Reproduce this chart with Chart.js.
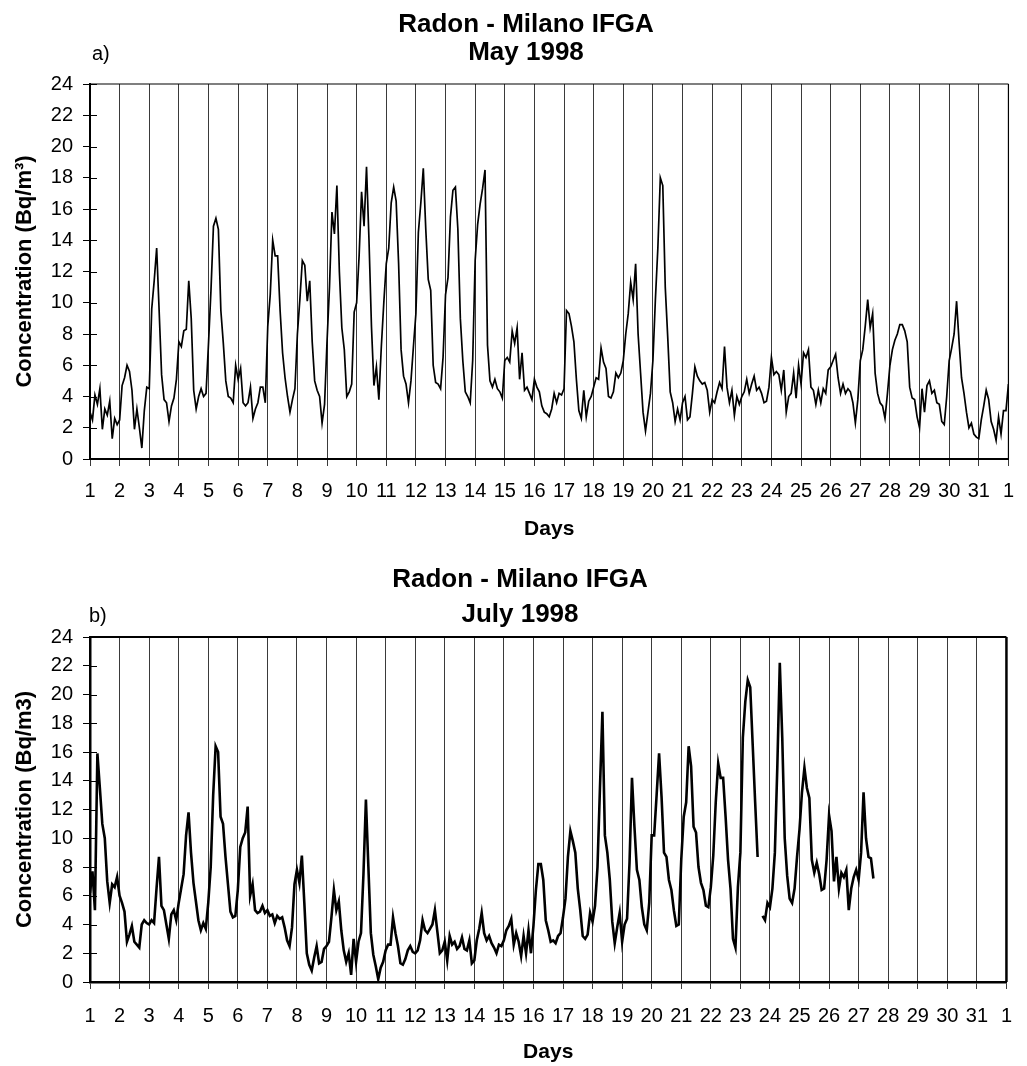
<!DOCTYPE html>
<html>
<head>
<meta charset="utf-8">
<script src="https://cdn.jsdelivr.net/npm/chart.js@4.4.1/dist/chart.umd.min.js"></script>
<style>
  html, body { margin: 0; padding: 0; background: #fff; }
  #wrap { position: relative; width: 1027px; height: 1066px; overflow: hidden; }
  .panel { position: absolute; left: 0; width: 1027px; }
  #panelA { top: 0; height: 546px; }
  #panelB { top: 546px; height: 520px; }
  canvas { display: block; }
</style>
</head>
<body>
<div id="wrap">
  <div class="panel" id="panelA"><canvas id="chartA" width="1027" height="546"></canvas></div>
  <div class="panel" id="panelB"><canvas id="chartB" width="1027" height="520"></canvas></div>
</div>
<script>
// Radon concentration (Bq/m3), Milano IFGA, one reading every 2 hours (12 per day).
const STEPS_PER_DAY = 12;

// May 1998, days 1..31 plus the first reading of 1 June
const mayConcentration = [
  3.0, 2.5, 4.1, 3.5, 4.5, 1.9, 3.2, 2.8, 3.7, 1.3, 2.6, 2.2,
  2.5, 4.7, 5.2, 6.0, 5.6, 4.4, 1.9, 3.2, 2.0, 0.7, 3.1, 4.6,
  4.5, 9.6, 11.4, 13.5, 9.5, 5.4, 3.8, 3.6, 2.4, 3.4, 3.9, 5.1,
  7.5, 7.2, 8.2, 8.3, 11.4, 9.0, 4.4, 3.2, 4.0, 4.5, 4.0, 4.2,
  7.4, 10.8, 14.9, 15.4, 14.7, 9.5, 7.4, 5.0, 4.0, 3.9, 3.6, 6.0,
  5.1, 5.8, 3.6, 3.4, 3.6, 4.6, 2.6, 3.2, 3.6, 4.6, 4.6, 3.6,
  8.5, 10.5, 14.0, 13.0, 13.0, 9.5, 6.8, 5.2, 4.0, 3.0, 3.8, 4.5,
  8.0, 10.2, 12.7, 12.4, 10.1, 11.4, 7.5, 5.0, 4.4, 4.0, 2.3, 3.5,
  7.5, 11.0, 15.8, 14.4, 17.5, 12.0, 8.4, 7.0, 4.0, 4.3, 4.8, 9.4,
  10.0, 13.0, 17.1, 14.9, 18.7, 14.0, 8.5, 4.7, 5.9, 3.8, 7.2, 10.0,
  12.5, 13.5, 16.4, 17.4, 16.5, 12.5, 7.0, 5.3, 4.8, 3.6, 5.0, 7.2,
  9.3, 14.5, 16.4, 18.6, 14.7, 11.5, 10.8, 6.0, 4.9, 4.8, 4.5, 6.5,
  10.5, 11.6, 15.5, 17.2, 17.4, 14.7, 9.0, 6.3, 4.3, 4.0, 3.6, 6.3,
  12.7, 15.0, 16.3, 17.3, 18.5, 7.3, 5.0, 4.6, 5.1, 4.5, 4.3, 3.9,
  6.3, 6.5, 6.2, 8.2, 7.4, 8.4, 5.1, 6.8, 4.4, 4.6, 4.2, 3.8,
  5.1, 4.6, 4.3, 3.4, 3.0, 2.9, 2.7, 3.2, 4.2, 3.6, 4.2, 4.1,
  4.5, 9.5, 9.3, 8.5, 7.5, 5.1, 3.1, 2.6, 4.4, 2.7, 3.7, 4.0,
  4.6, 5.2, 5.1, 7.1, 6.2, 5.8, 4.0, 3.9, 4.3, 5.5, 5.2, 5.5,
  6.3, 8.0, 9.3, 11.3, 10.2, 12.5, 8.0, 5.5, 3.0, 1.8, 3.0, 4.2,
  6.3, 10.2, 13.5, 18.0, 17.5, 11.0, 7.8, 4.3, 3.6, 2.4, 3.2, 2.5,
  3.6, 4.0, 2.5, 2.7, 4.2, 5.9, 5.3, 5.0, 4.8, 4.9, 4.4, 3.0,
  3.8, 3.6, 4.3, 4.9, 4.5, 7.2, 4.6, 3.6, 4.4, 2.8, 4.0, 3.5,
  4.0, 4.3, 5.1, 4.2, 4.8, 5.3, 4.4, 4.6, 4.2, 3.6, 3.7, 4.6,
  6.5, 5.4, 5.6, 5.4, 4.4, 5.7, 3.0, 4.0, 4.2, 5.5, 3.9, 6.0,
  4.8, 6.8, 6.5, 7.0, 4.6, 4.4, 3.5, 4.4, 3.6, 4.5, 4.2, 5.7,
  5.9, 6.3, 6.7, 5.2, 4.2, 4.8, 4.2, 4.5, 4.3, 3.6, 2.3, 3.8,
  6.3, 7.0, 8.5, 10.2, 8.4, 9.3, 5.5, 4.2, 3.6, 3.4, 2.6, 4.2,
  6.0, 7.0, 7.6, 8.0, 8.6, 8.6, 8.2, 7.5, 4.6, 3.9, 3.8, 2.7,
  2.0, 4.5, 3.0, 4.7, 5.0, 4.2, 4.4, 3.6, 3.5, 2.4, 2.2, 4.0,
  6.3, 7.1, 8.0, 10.1, 7.5, 5.2, 4.2, 3.0, 2.0, 2.3, 1.6, 1.4,
  1.3, 2.5, 3.4, 4.4, 3.8, 2.4, 1.9, 1.2, 2.7, 1.6, 3.1, 3.1,
  4.8
];

// July 1998, recording stops during day 27; null marks a missing reading
const julyConcentration = [
  6.2, 7.7, 5.0, 15.9, 13.5, 11.0, 10.0, 7.0, 5.5, 6.8, 6.6, 7.3,
  6.0, 5.5, 4.9, 2.8, 3.3, 3.9, 2.8, 2.6, 2.4, 4.0, 4.3, 4.1,
  4.0, 4.3, 4.1, 6.5, 8.7, 5.3, 5.0, 4.0, 3.0, 4.7, 5.0, 4.3,
  5.5, 6.5, 7.5, 10.2, 11.8, 9.0, 6.9, 5.6, 4.3, 3.6, 4.1, 3.7,
  5.5, 8.0, 13.0, 16.4, 16.0, 11.5, 11.0, 8.7, 6.8, 4.9, 4.5, 4.6,
  6.4, 9.4, 10.0, 10.4, 12.2, 6.0, 6.8, 5.0, 4.8, 4.9, 5.3, 4.8,
  5.0, 4.6, 4.7, 4.1, 4.6, 4.4, 4.5, 3.8, 2.9, 2.5, 3.8, 6.8,
  7.8, 6.9, 8.8, 5.5, 2.0, 1.2, 0.8, 1.7, 2.5, 1.3, 1.4, 2.3,
  2.5, 2.8, 4.5, 6.4, 5.0, 5.6, 3.6, 2.2, 1.4, 2.0, 0.5, 3.0,
  1.4, 2.8, 3.4, 7.5, 12.7, 8.0, 3.4, 1.9, 1.1, 0.2, 1.0, 1.4,
  2.2, 2.6, 2.6, 4.5, 3.4, 2.5, 1.3, 1.2, 1.6, 2.2, 2.5, 2.1,
  2.0, 2.2, 2.9, 4.3, 3.6, 3.4, 3.7, 4.0, 5.0, 3.5, 2.0, 2.2,
  2.8, 1.5, 3.2, 2.6, 2.8, 2.3, 2.5, 3.1, 2.3, 2.2, 2.9, 1.3,
  1.5, 2.9, 3.7, 4.8, 3.4, 2.9, 3.2, 2.7, 2.4, 2.0, 2.6, 2.5,
  2.9, 3.6, 3.9, 4.4, 2.6, 3.4, 2.8, 1.8, 3.2, 2.0, 3.6, 2.0,
  3.9, 6.4, 8.2, 8.2, 7.1, 4.3, 3.6, 2.8, 2.9, 2.7, 3.2, 3.4,
  4.5, 5.8, 8.7, 10.5, 9.8, 9.0, 6.5, 5.0, 3.2, 3.0, 3.3, 4.8,
  4.2, 5.3, 8.0, 13.5, 18.8, 10.2, 9.0, 7.1, 4.2, 2.7, 3.8, 4.8,
  2.8, 4.0, 4.4, 8.3, 14.2, 10.8, 7.8, 7.1, 5.2, 4.0, 3.6, 5.5,
  10.2, 10.2, 13.0, 15.9, 12.9, 9.0, 8.7, 7.1, 6.4, 5.0, 3.9, 4.0,
  8.5, 11.5, 12.5, 16.4, 15.0, 10.8, 10.4, 8.0, 6.9, 6.4, 5.3, 5.2,
  6.6, 8.8, 12.5, 15.2, 14.2, 14.2, 11.5, 8.5, 6.5, 3.0, 2.4, 6.6,
  9.0, 17.0, 19.5, 21.0, 20.5, 16.5, 12.5, 8.7, null, 4.6, 4.3, 5.5,
  5.2, 6.5, 9.0, 15.0, 22.2, 17.0, 10.0, 7.4, 5.8, 5.5, 6.5, 8.7,
  10.6, 13.2, 14.9, 13.5, 12.8, 8.5, 7.6, 8.3, 7.5, 6.4, 6.5, 8.5,
  11.6, 10.5, 7.0, 8.7, 6.5, 7.6, 7.3, 7.8, 5.0, 6.5, 7.3, 7.8,
  7.1, 9.0, 13.2, 10.0, 8.7, 8.6, 7.2
];

// Day-of-month tick labels: 1..31, then 1 for the first day of the next month
const dayLabels = ['1','2','3','4','5','6','7','8','9','10','11','12','13','14','15','16',
  '17','18','19','20','21','22','23','24','25','26','27','28','29','30','31','1'];
const concentrationTicks = [0, 2, 4, 6, 8, 10, 12, 14, 16, 18, 20, 22, 24];

const FONT = "'Liberation Sans', Arial, Helvetica, sans-serif";
Chart.defaults.font.family = FONT;
Chart.defaults.color = '#000';

const toPoints = vals => vals.map((v, i) => ({ x: 1 + i / STEPS_PER_DAY, y: v }));

// Frame, inner y tick marks and panel headings
const panelDecor = {
  id: 'panelDecor',
  afterDraw(chart, args, o) {
    const { ctx, chartArea: a } = chart;
    const y = chart.scales.y;
    ctx.save();
    ctx.strokeStyle = '#000';
    ctx.lineWidth = 1;
    y.ticks.forEach(t => {
      const py = Math.round(y.getPixelForValue(t.value)) + 0.5;
      ctx.beginPath();
      ctx.moveTo(a.left, py);
      ctx.lineTo(a.left + o.innerTick, py);
      ctx.stroke();
    });
    ctx.lineWidth = o.topWidth;
    ctx.beginPath();
    ctx.moveTo(a.left, a.top);
    ctx.lineTo(a.right, a.top);
    ctx.stroke();
    ctx.lineWidth = o.rightWidth;
    ctx.beginPath();
    ctx.moveTo(a.right, a.top);
    ctx.lineTo(a.right, a.bottom);
    ctx.stroke();

    ctx.fillStyle = '#000';
    ctx.textBaseline = 'alphabetic';
    ctx.textAlign = 'center';
    ctx.font = o.titleFont;
    o.title.forEach((line, i) => ctx.fillText(line, o.titleX, o.titleBaselines[i]));
    ctx.textAlign = 'left';
    ctx.font = o.tagFont;
    ctx.fillText(o.tag, o.tagX, o.tagBaseline);
    ctx.restore();
  }
};

function makeChart(id, cfg) {
  return new Chart(document.getElementById(id), {
    type: 'line',
    data: {
      datasets: [{
        data: toPoints(cfg.values),
        borderColor: '#000',
        borderWidth: cfg.lineWidth,
        pointRadius: 0,
        tension: 0,
        spanGaps: false,
        fill: false
      }]
    },
    options: {
      responsive: false,
      animation: false,
      events: [],
      layout: { padding: { left: 0, top: cfg.padTop, right: cfg.padRight, bottom: 0 } },
      plugins: {
        legend: { display: false },
        tooltip: { enabled: false },
        title: { display: false },
        panelDecor: cfg.decor
      },
      scales: {
        x: {
          type: 'linear',
          min: 1,
          max: dayLabels.length,
          afterBuildTicks: s => { s.ticks = dayLabels.map((_, i) => ({ value: i + 1 })); },
          afterFit: s => { s.height = cfg.xHeight; },
          ticks: {
            autoSkip: false,
            maxRotation: 0,
            padding: cfg.tickPad,
            font: { size: 20 },
            color: '#000',
            callback: v => dayLabels[v - 1]
          },
          grid: { color: '#3a3a3a', lineWidth: 1, tickLength: 7, drawTicks: true },
          border: { display: true, color: '#000', width: cfg.axisWidth },
          title: {
            display: true,
            text: 'Days',
            font: { size: 21, weight: 'bold' },
            color: '#000',
            padding: { top: 0, bottom: cfg.daysPad }
          }
        },
        y: {
          type: 'linear',
          min: 0,
          max: 24,
          afterBuildTicks: s => { s.ticks = concentrationTicks.map(v => ({ value: v })); },
          afterFit: s => { s.width = 90; },
          ticks: { padding: 10, font: { size: 20 }, color: '#000' },
          grid: { drawOnChartArea: false, drawTicks: true, tickLength: 7, color: '#000', lineWidth: 1 },
          border: { display: true, color: '#000', width: cfg.axisWidth },
          title: {
            display: true,
            text: cfg.yTitle,
            font: { size: 22, weight: 'bold' },
            color: '#000',
            padding: { top: 12, bottom: 0 }
          }
        }
      }
    },
    plugins: [panelDecor]
  });
}

makeChart('chartA', {
  values: mayConcentration,
  lineWidth: 1.7,
  padTop: 84,
  padRight: 8,
  xHeight: 87,
  tickPad: 13,
  axisWidth: 2,
  daysPad: 4,
  yTitle: 'Concentration (Bq/m\u00B3)',
  decor: {
    innerTick: 7, topWidth: 1.2, rightWidth: 1.2,
    title: ['Radon - Milano IFGA', 'May 1998'],
    titleFont: 'bold 26px ' + FONT,
    titleX: 526, titleBaselines: [32, 60],
    tag: 'a)', tagFont: '20px ' + FONT, tagX: 92, tagBaseline: 60
  }
});

makeChart('chartB', {
  values: julyConcentration,
  lineWidth: 2.6,
  padTop: 91,
  padRight: 18,
  xHeight: 84,
  tickPad: 15,
  axisWidth: 2.5,
  daysPad: 1,
  yTitle: 'Concentration (Bq/m3)',
  decor: {
    innerTick: 7, topWidth: 2, rightWidth: 2.5,
    title: ['Radon - Milano IFGA', 'July 1998'],
    titleFont: 'bold 26px ' + FONT,
    titleX: 520, titleBaselines: [41, 76],
    tag: 'b)', tagFont: '20px ' + FONT, tagX: 89, tagBaseline: 76
  }
});
</script>
</body>
</html>
